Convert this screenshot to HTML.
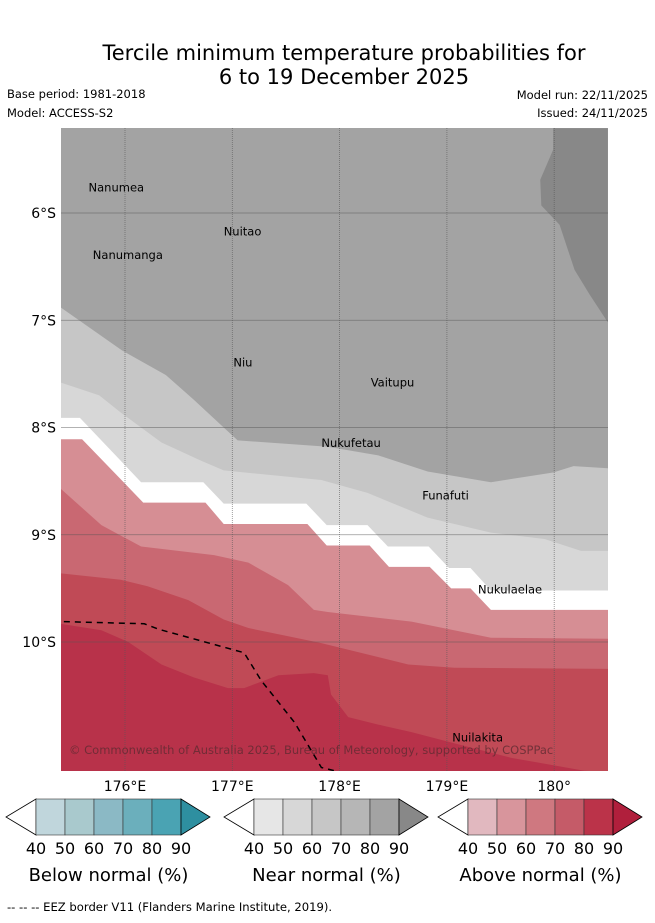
<!DOCTYPE html>
<html><head><meta charset="utf-8"><style>
body{margin:0;background:#fff;font-family:"DejaVu Sans","Liberation Sans",sans-serif;}
svg text{font-family:"DejaVu Sans","Liberation Sans",sans-serif;}
</style></head><body>
<svg id="chart" width="655" height="919" xmlns="http://www.w3.org/2000/svg">
<text x="344" y="60" font-size="21" text-anchor="middle">Tercile minimum temperature probabilities for</text>
<text x="344" y="84" font-size="21" text-anchor="middle">6 to 19 December 2025</text>
<text x="7" y="98" font-size="11.5">Base period: 1981-2018</text>
<text x="7" y="117" font-size="11.5">Model: ACCESS-S2</text>
<text x="648" y="99" font-size="11.5" text-anchor="end">Model run: 22/11/2025</text>
<text x="648" y="117" font-size="11.5" text-anchor="end">Issued: 24/11/2025</text>
<defs><clipPath id="mapclip"><rect x="61" y="128" width="547" height="643"/></clipPath></defs>
<g id="map" clip-path="url(#mapclip)"></g>
<g id="axes"></g>
<g id="cbars"></g>
<text x="7" y="911" font-size="11.6">--  --  -- EEZ border V11 (Flanders Marine Institute, 2019).</text>
</svg>
<script>
const lonTicks=[176,177,178,179,180];
const lonTickLabels=["176°E","177°E","178°E","179°E","180°"];
const latTicks=[6,7,8,9,10];
const latTickLabels=["6°S","7°S","8°S","9°S","10°S"];
// contour boundaries (lon, lat south) — region below each is filled with its colour
const darkLon=[179.99,179.99,179.87,179.88,180.05,180.19,180.33,180.50,180.50];
const darkLat=[5.21,5.41,5.69,5.93,6.11,6.53,6.76,7.02,5.21];
const b1Lon=[175.40,175.97,176.38,176.64,176.92,177.05,177.89,178.36,178.82,179.41,179.99,180.18,180.50];
const b1Lat=[6.88,7.28,7.51,7.74,8.00,8.12,8.18,8.26,8.41,8.51,8.42,8.36,8.38];
const b2Lon=[175.40,175.76,175.96,176.34,176.71,176.92,177.83,178.26,178.82,179.41,179.91,180.25,180.50];
const b2Lat=[7.58,7.70,7.86,8.14,8.31,8.40,8.49,8.61,8.84,8.98,9.04,9.15,9.15];
const b3Lon=[175.40,175.58,176.15,176.73,176.92,177.69,177.88,178.26,178.45,178.83,179.02,179.22,179.41,180.50];
const b3Lat=[7.91,7.91,8.51,8.51,8.71,8.71,8.91,8.91,9.11,9.11,9.31,9.31,9.52,9.52];
const b4Lon=[175.40,175.60,176.17,176.75,176.92,177.70,177.88,178.28,178.46,178.84,179.04,179.22,179.41,180.50];
const b4Lat=[8.11,8.11,8.70,8.70,8.90,8.90,9.10,9.10,9.30,9.30,9.50,9.50,9.70,9.70];
const b5Lon=[175.40,175.78,176.15,176.83,177.15,177.52,177.76,177.89,178.67,179.41,180.50];
const b5Lat=[8.57,8.91,9.11,9.19,9.26,9.47,9.70,9.72,9.81,9.96,9.97];
const b6Lon=[175.40,175.96,176.21,176.59,176.92,177.15,177.83,178.64,179.07,180.50];
const b6Lat=[9.36,9.42,9.48,9.61,9.79,9.87,10.01,10.21,10.24,10.25];
const b7Lon=[175.40,175.78,176.03,176.34,176.64,176.96,177.11,177.43,177.76,177.89,177.92,178.08,178.36,178.67,179.13,179.60,180.28,180.60];
const b7Lat=[9.83,9.89,10.00,10.21,10.33,10.43,10.43,10.31,10.29,10.31,10.49,10.70,10.77,10.84,10.96,11.08,11.20,11.22];
const eezLon=[175.43,176.18,176.31,177.11,177.27,177.58,177.83,177.95];
const eezLat=[9.81,9.83,9.88,10.10,10.36,10.75,11.17,11.20];
const places=["Nanumea","Nuitao","Nanumanga","Niu","Vaitupu","Nukufetau","Funafuti","Nukulaelae","Nuilakita"];
const placeLon=[175.66,176.92,175.70,177.01,178.29,177.83,178.77,179.29,179.05];
const placeLat=[5.80,6.21,6.43,7.43,7.62,8.18,8.67,9.55,10.93];
const belowColors=["#c0d6dc","#a9c9cd","#8bb9c5","#6bafbc","#4aa3b3"];
const nearColors=["#e6e6e6","#d7d7d7","#c6c6c6","#b6b6b6","#a3a3a3"];
const aboveColors=["#e1b8bf","#d8959c","#cf7880","#c55b68","#bb3349"];
const cbTicks=["40","50","60","70","80","90"];

const NS="http://www.w3.org/2000/svg";
const X=lon=>125+(lon-176)*107.3;
const Y=lat=>213+(lat-6)*107.25;
const map=document.getElementById('map'),axes=document.getElementById('axes'),cb=document.getElementById('cbars');
function mk(tag,attrs,parent){const e=document.createElementNS(NS,tag);for(const k in attrs)e.setAttribute(k,attrs[k]);parent.appendChild(e);return e;}
const base=mk('rect',{x:61,y:128,width:547,height:643,fill:'#a3a3a3'},map);


let dp=darkLon.map((l,i)=>X(l)+','+Y(darkLat[i])).join(' ');
const dk=mk('polygon',{points:dp,fill:'#888888'},map);


function below(lons,lats,fill,name){
 let p=lons.map((l,i)=>X(l)+','+Y(lats[i]));
 p.push('700,800','40,800');
 const e=mk('polygon',{points:p.join(' '),fill:fill},map);
 
 
}
below(b1Lon,b1Lat,'#c6c6c6','near-60-70-region');
below(b2Lon,b2Lat,'#d7d7d7','near-50-60-region');
below(b3Lon,b3Lat,'#ffffff','no-dominant-region');
below(b4Lon,b4Lat,'#d68e94','above-50-60-region');
below(b5Lon,b5Lat,'#c96872','above-60-70-region');
below(b6Lon,b6Lat,'#c04a56','above-70-80-region');
below(b7Lon,b7Lat,'#b8324a','above-80-90-region');
lonTicks.forEach((t,i)=>{
 const g=mk('line',{x1:X(t),x2:X(t),y1:128,y2:771,stroke:'#555',"stroke-width":0.8,"stroke-dasharray":"1,1",opacity:0.7},map);
 
 
 const tx=mk('text',{x:X(t),y:791,"font-size":14,"text-anchor":"middle"},axes);tx.textContent=lonTickLabels[i];
 
 
});
latTicks.forEach((t,i)=>{
 const g=mk('line',{x1:61,x2:608,y1:Y(t),y2:Y(t),stroke:'#555',"stroke-width":0.8,opacity:0.6},map);
 
 
 const tx=mk('text',{x:56,y:Y(t)+5,"font-size":14,"text-anchor":"end"},axes);tx.textContent=latTickLabels[i];
 
 
});
const eez=mk('polyline',{points:eezLon.map((l,i)=>X(l)+','+Y(eezLat[i])).join(' '),fill:'none',stroke:'#000',"stroke-width":1.5,"stroke-dasharray":"6,5"},map);


places.forEach((p,i)=>{
 const t=mk('text',{x:X(placeLon[i]),y:Y(placeLat[i]),"font-size":11.5},map);t.textContent=p;
 
 
});
const cp=mk('text',{x:69,y:754,"font-size":11.5,fill:'#5a2a30',opacity:0.75},map);
cp.textContent='© Commonwealth of Australia 2025, Bureau of Meteorology, supported by COSPPac';


function bar(x0,cols,tip,title,name){
 const g=mk('g',{},cb);
 
 
 const y0=799,h=36,w=29;
 mk('polygon',{points:`${x0},${y0} ${x0-30},${y0+h/2} ${x0},${y0+h}`,fill:'#fff',stroke:'#000',"stroke-width":0.8},g);
 cols.forEach((c,i)=>mk('rect',{x:x0+i*w,y:y0,width:w,height:h,fill:c,stroke:'#333',"stroke-width":0.6},g));
 const xe=x0+cols.length*w;
 mk('polygon',{points:`${xe},${y0} ${xe+29},${y0+h/2} ${xe},${y0+h}`,fill:tip,stroke:'#000',"stroke-width":0.8},g);
 cbTicks.forEach((t,i)=>{const tx=mk('text',{x:x0+i*w,y:854,"font-size":16,"text-anchor":"middle"},g);tx.textContent=t;});
 const tt=mk('text',{x:x0+cols.length*w/2,y:881,"font-size":18,"text-anchor":"middle"},g);tt.textContent=title;
}
bar(36,belowColors,'#2e8fa0','Below normal (%)','below-normal-colorbar');
bar(254,nearColors,'#888888','Near normal (%)','near-normal-colorbar');
bar(468,aboveColors,'#b01f3c','Above normal (%)','above-normal-colorbar');
</script>
</body></html>
